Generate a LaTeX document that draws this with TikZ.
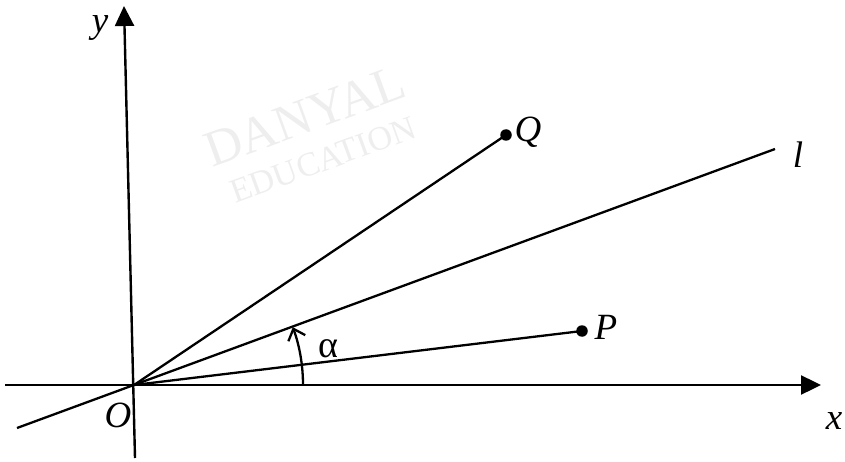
\documentclass[tikz,border=0pt]{standalone}
\usepackage{fontspec}
\setmainfont{Liberation Serif}
\usetikzlibrary{arrows.meta}
\definecolor{wm}{HTML}{EEEEEE}
\tikzset{
  axis/.style={line width=2.4pt, -{Triangle[length=20pt,width=19pt]}},
  ray/.style={line width=2.3pt},
  lab/.style={font=\fontsize{37}{37}\selectfont\itshape, inner sep=0pt},
  dotpt/.style={circle, fill=black, minimum size=11.5pt, inner sep=0pt},
  wmark/.style={text=wm, rotate=20, inner sep=0pt}
}
\begin{document}
\begin{tikzpicture}[x=1pt,y=1pt]
\useasboundingbox (0,0) rectangle (845,461);
% watermark
\node[wmark, font=\fontsize{51}{51}\selectfont] (wm1) at (305,345) {DANYAL};
\node[wmark, font=\fontsize{34}{34}\selectfont] (wm2) at (323,301) {EDUCATION};
% points
\coordinate (O) at (134,76);
\coordinate (xs) at (5,76);
\coordinate (xe) at (821,76);
\coordinate (ys) at (135,3);
\coordinate (ye) at (124,455);
\coordinate (ls) at (17,33);
\coordinate (le) at (775,312);
\node[dotpt] (Q) at (506,326) {};
\node[dotpt] (P) at (582,130) {};
% rays
\draw[ray] (O) -- (Q.center);
\draw[ray] (O) -- (P.center);
\draw[ray] (ls) -- (le);
% axes
\draw[axis] (xs) -- (xe);
\draw[axis] (ys) -- (ye);
% angle arc
\draw[line width=2.3pt, -{Straight Barb[length=10pt,width=18pt]}] ([xshift=169pt]O) arc[start angle=0, end angle=20, radius=169pt];
% labels
\node[lab] (Qlab) at (528,329) {Q};
\node[lab] (Plab) at (606,134) {P};
\node[lab] (llab) at (798,306) {l};
\node[lab] (xlab) at (834,40) {x};
\node[lab] (ylab) at (100,433) {y};
\node[lab] (Olab) at (118,46) {O};
\node[font=\fontsize{38}{38}\selectfont, inner sep=0pt] (alab) at (328,112) {α};
\end{tikzpicture}
\end{document}
